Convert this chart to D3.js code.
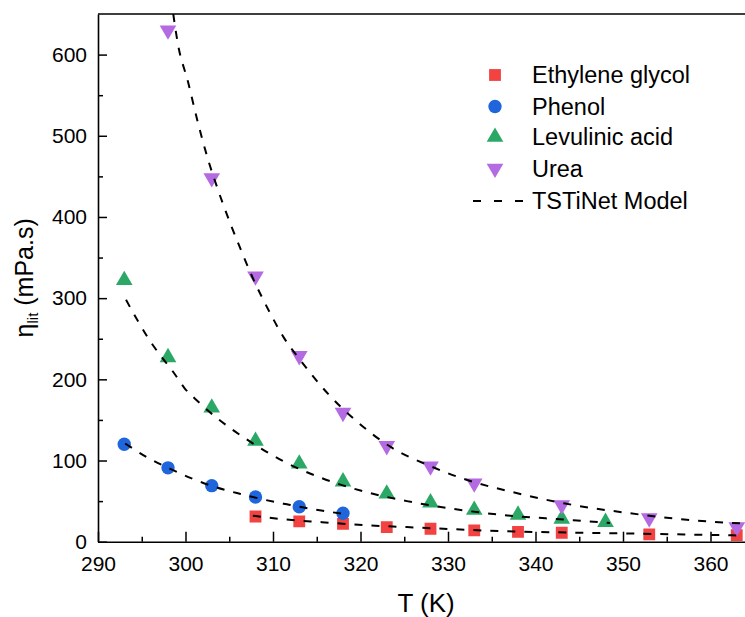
<!DOCTYPE html>
<html>
<head>
<meta charset="utf-8">
<script src="https://cdn.jsdelivr.net/npm/d3@7"></script>
<style>
  body { margin: 0; background: #fff; }
  svg { display: block; font-family: Arial, "Liberation Sans", sans-serif; }
</style>
</head>
<body>
<script>
// axis ticks
const xTicks = [290, 300, 310, 320, 330, 340, 350, 360];
const xMinor = [295, 305, 315, 325, 335, 345, 355, 365];
const yTicks = [0, 100, 200, 300, 400, 500, 600];
const yMinor = [50, 150, 250, 350, 450, 550];

// measured viscosities (mPa.s)
const tEG = [308, 313, 318, 323, 328, 333, 338, 343, 353, 363];
const vEG = [31, 25, 22, 18, 16, 14, 12, 11, 9, 8];
const tPH = [293, 298, 303, 308, 313, 318];
const vPH = [120, 91, 69, 55, 43, 35];
const tLA = [293, 298, 303, 308, 313, 318, 323, 328, 333, 338, 343, 348];
const vLA = [322, 227, 165, 124, 96, 74, 59, 48, 39, 33, 28, 24];
const tUR = [298, 303, 308, 313, 318, 323, 328, 333, 343, 353, 363];
const vUR = [630, 448, 327, 229, 159, 118, 93, 72, 45, 29, 18];

// TSTiNet model curves
const mtEG = [307.7, 310.8, 315.6, 320.3, 325.3, 330.2, 334, 337.5, 343.6, 350, 357, 364.5];
const mvEG = [32, 28, 24, 20.5, 18, 15.6, 13.8, 12.6, 11.3, 10.2, 8.9, 7.5];
const mtPH = [293.1, 295.6, 298.2, 300.7, 303.5, 306.2, 308.9, 311.6, 313.5, 315.7, 318.3];
const mvPH = [121, 104, 90, 78, 67, 59, 52, 46, 42, 38, 34];
const mtLA = [293.2, 294.6, 295.9, 297.3, 298.6, 299.9, 301.4, 303.4, 305.1, 307, 311.2, 315.4, 320, 325.3, 330.2, 336.2, 343.6, 348.5];
const mvLA = [298, 271, 248, 227, 209, 189, 173, 154, 140, 126, 99, 79, 63, 50, 41, 33, 27, 23];
const mtUR = [298.6, 299.1, 300.3, 301.4, 302.6, 303.6, 306.5, 307.6, 309.7, 311.2, 313.1, 316.3, 319.6, 323.4, 328, 332.2, 337.4, 343.4, 350.8, 357.3, 364.5];
const mvUR = [650, 615, 566, 517, 470, 437, 355, 327, 281, 252, 224, 182, 148, 117, 93, 76, 61, 47, 35, 27, 22];

const names = ['Ethylene glycol', 'Phenol', 'Levulinic acid', 'Urea'];
const colors = ['#f24242', '#1f66dc', '#2ca866', '#b46ae0'];
const shapes = [d3.symbolSquare, d3.symbolCircle, d3.symbolTriangle, d3.symbolTriangle];
const sizes = [140, 140, 120, 120];
const rotations = [0, 0, 0, 180];

const series = [
  { t: tEG, v: vEG, mt: mtEG, mv: mvEG },
  { t: tPH, v: vPH, mt: mtPH, mv: mvPH },
  { t: tLA, v: vLA, mt: mtLA, mv: mvLA },
  { t: tUR, v: vUR, mt: mtUR, mv: mvUR }
];

const W = 745, H = 617;
const pLeft = 98, pTop = 14, pBottom = 541.7, pRight = 754.25;

const x = d3.scaleLinear().domain([290, 365]).range([pLeft, pRight]);
const y = d3.scaleLinear().domain([0, 650]).range([pBottom, pTop]);

const svg = d3.select('body').append('svg')
  .attr('width', W)
  .attr('height', H);

svg.append('defs').append('clipPath').attr('id', 'plot')
  .append('rect')
  .attr('x', pLeft).attr('y', pTop)
  .attr('width', pRight - pLeft).attr('height', pBottom - pTop);

// minor ticks
svg.append('g')
  .attr('transform', `translate(0,${pBottom})`)
  .call(d3.axisBottom(x).tickValues(xMinor).tickSize(-5).tickFormat(''))
  .call(g => g.select('.domain').remove());
svg.append('g')
  .attr('transform', `translate(${pLeft},0)`)
  .call(d3.axisLeft(y).tickValues(yMinor).tickSize(-5).tickFormat(''))
  .call(g => g.select('.domain').remove());

// major axes
const xAxis = svg.append('g')
  .attr('transform', `translate(0,${pBottom})`)
  .call(d3.axisBottom(x).tickValues(xTicks).tickSizeInner(-10).tickSizeOuter(0).tickPadding(14));
const yAxis = svg.append('g')
  .attr('transform', `translate(${pLeft},0)`)
  .call(d3.axisLeft(y).tickValues(yTicks).tickSizeInner(-9).tickSizeOuter(0).tickPadding(11));

[xAxis, yAxis].forEach(g => {
  g.selectAll('text').attr('font-size', 21).attr('fill', '#000').attr('font-family', null);
  g.select('.domain').attr('stroke-width', 1.6);
});
svg.selectAll('.tick line').attr('stroke', '#000').attr('stroke-width', 1.5);

// frame top and right
svg.append('path')
  .attr('d', `M${pLeft},${pTop}H${pRight}V${pBottom}`)
  .attr('fill', 'none')
  .attr('stroke', '#000')
  .attr('stroke-width', 1.6);

// markers
const plot = svg.append('g').attr('clip-path', 'url(#plot)');
series.forEach((s, i) => {
  const sym = d3.symbol().type(shapes[i]).size(sizes[i]);
  plot.append('g').selectAll('path')
    .data(s.t.map((t, j) => [t, s.v[j]]))
    .join('path')
    .attr('d', sym)
    .attr('fill', colors[i])
    .attr('transform', d => `translate(${x(d[0])},${y(d[1])}) rotate(${rotations[i]})`);
});

// model curves on top
const line = d3.line().x(d => x(d[0])).y(d => y(d[1])).curve(d3.curveMonotoneX);
series.forEach(s => {
  plot.append('path')
    .datum(s.mt.map((t, j) => [t, s.mv[j]]))
    .attr('d', line)
    .attr('fill', 'none')
    .attr('stroke', '#000')
    .attr('stroke-width', 2)
    .attr('stroke-dasharray', '8,9');
});

// axis titles
svg.append('text')
  .attr('x', (pLeft + pRight) / 2)
  .attr('y', 612)
  .attr('text-anchor', 'middle')
  .attr('font-size', 26)
  .text('T (K)');

const yt = svg.append('text')
  .attr('transform', `translate(33,${(pTop + pBottom) / 2}) rotate(-90)`)
  .attr('text-anchor', 'middle')
  .attr('font-size', 25);
yt.append('tspan').text('\u03B7');
yt.append('tspan').attr('font-size', 15).attr('dy', 5).text('lit');
yt.append('tspan').attr('dy', -5).text(' (mPa.s)');

// legend
const rows = [75, 106.5, 137, 168.5];
const legend = svg.append('g');
names.forEach((n, i) => {
  legend.append('path')
    .attr('d', d3.symbol().type(shapes[i]).size(sizes[i])())
    .attr('fill', colors[i])
    .attr('transform', `translate(495,${rows[i]}) rotate(${rotations[i]})`);
  legend.append('text')
    .attr('x', 532).attr('y', rows[i])
    .attr('dy', '0.36em')
    .attr('font-size', 23.5)
    .text(n);
});
legend.append('line')
  .attr('x1', 473).attr('x2', 525)
  .attr('y1', 201).attr('y2', 201)
  .attr('stroke', '#000')
  .attr('stroke-width', 2)
  .attr('stroke-dasharray', '8,13');
legend.append('text')
  .attr('x', 532).attr('y', 201)
  .attr('dy', '0.36em')
  .attr('font-size', 23.5)
  .text('TSTiNet Model');
</script>
</body>
</html>
